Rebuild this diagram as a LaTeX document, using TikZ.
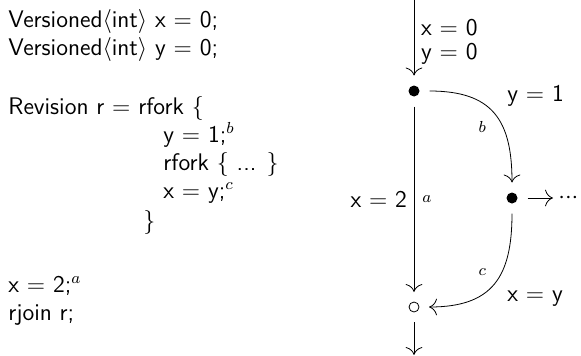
\documentclass[tikz,border=0pt]{standalone}
\usetikzlibrary{positioning,arrows.meta}

\tikzset{
    code/.style={anchor=base west,inner sep=0pt},
    dot/.style={circle,fill=black,inner sep=0pt,minimum size=5.5pt,outer sep=5pt},
    hollow/.style={circle,draw=black,inner sep=0pt,minimum size=5pt,outer sep=5pt},
    tag/.style={inner sep=4pt,font=\footnotesize}
}

\begin{document}
\begin{tikzpicture}[font=\fontsize{12}{14}\selectfont\sffamily,>={To[scale=1.6]},x=0.5pt,y=0.5pt]
    \useasboundingbox (0,0) rectangle (581,355);

    % program text
    \node[code] (vx) at (8,328) {Versioned$\langle$int$\rangle$ x $=$ 0;};
    \node[code] (vy) at (8,300) {Versioned$\langle$int$\rangle$ y $=$ 0;};
    \node[code] (rev) at (8,241) {Revision r $=$ rfork $\{$};
    \node[code] (sety) at (163,213) {y $=$ 1;$^b$};
    \node[code] (sub) at (163,185) {rfork $\{$ ... $\}$};
    \node[code] (setx) at (163,157) {x $=$ y;$^c$};
    \node[code] (close) at (143,127) {$\}$};
    \node[code] (main) at (8,63) {x $=$ 2;$^a$};
    \node[code] (join) at (8,35) {rjoin r;};

    % revision diagram
    \coordinate (top) at (414,355);
    \node[dot] (fork) at (414,264) {};
    \node[dot] (inner) at (512,157) {};
    \node[hollow] (merge) at (414,48) {};
    \node[anchor=west,inner sep=0pt] (more) at (558,157) {${\cdotp}{\cdotp}{\cdotp}$};
    \coordinate (bot) at (414,0);

    \draw[->] (top) -- node[right,align=left,yshift=-2pt] {x $=$ 0\\[-2pt]y $=$ 0} (fork);
    \draw[->] (fork) -- node[left] {x $=$ 2} node[tag,right] {$a$} (merge);
    \draw[->] (fork) to[out=0,in=90,looseness=1.3]
        node[above right,xshift=3pt] {y $=$ 1} node[tag,below left] {$b$} (inner);
    \draw[->] (inner) to[out=-90,in=0,looseness=1.3]
        node[below right,xshift=3pt] {x $=$ y} node[tag,above left] {$c$} (merge);
    \draw[->,shorten >=2.5pt] (inner) -- (more);
    \draw[->] (merge) -- (bot);
\end{tikzpicture}
\end{document}
